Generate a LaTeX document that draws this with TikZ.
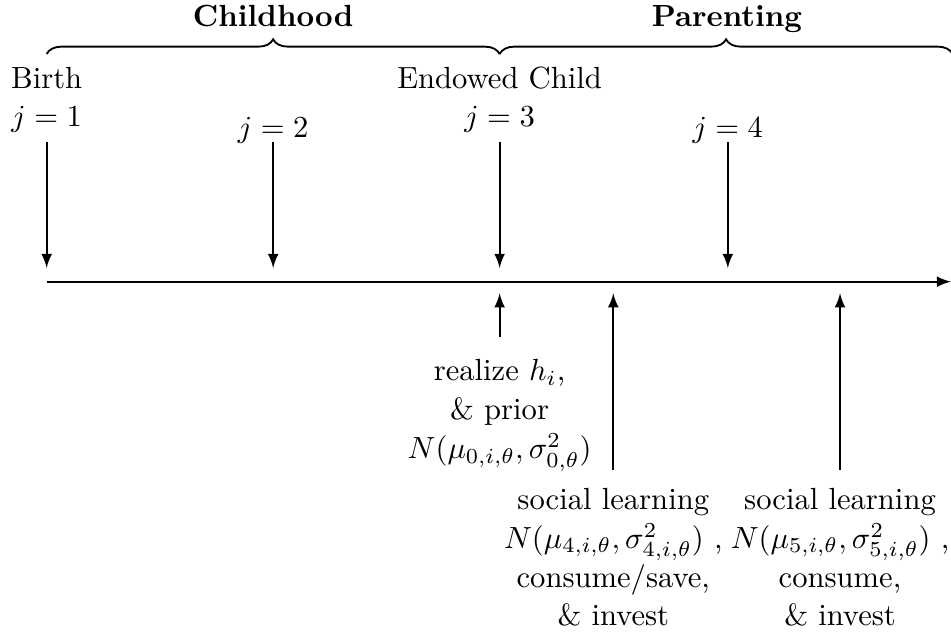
\documentclass[tikz,border=0pt]{standalone}
\usepackage{amsmath,amssymb}
\usepackage{tikz}
\usetikzlibrary{decorations.pathreplacing,arrows}

\tikzset{
  lbl/.style={inner sep=0pt,anchor=base},
  evt/.style={align=center,anchor=north,inner sep=0.5pt,outer sep=0pt,font=\fontsize{10pt}{12.7pt}\selectfont},
  brc/.style={decorate,decoration={brace,amplitude=4.8pt}},
}

\begin{document}
\begin{tikzpicture}[>=latex,semithick]
\useasboundingbox (-0.536,-4.022) rectangle (10.382,3.234);
\coordinate (start) at (0,0);
\coordinate (end) at (10.382,0);
\draw[->] (start) -- (end);
\coordinate (c0) at (0,2.614);
\coordinate (c1) at (5.2,2.614);
\coordinate (c2) at (10.4,2.614);
\draw[brc] (c0) -- (c1);
\draw[brc] (c1) -- (c2);
\node[lbl,font=\bfseries] (child) at (2.6,2.928) {Childhood};
\node[lbl,font=\bfseries] (parent) at (7.81,2.928) {Parenting};
\node[lbl] (birth) at (0,2.222) {Birth};
\node[lbl] (j1) at (0,1.776) {$j=1$};
\node[lbl] (j2) at (2.6,1.661) {$j=2$};
\node[lbl] (endow) at (5.2,2.222) {Endowed Child};
\node[lbl] (j3) at (5.2,1.776) {$j=3$};
\node[lbl] (j4) at (7.82,1.661) {$j=4$};
\coordinate (d1) at (0,1.604);
\coordinate (d2) at (2.6,1.604);
\coordinate (d3) at (5.2,1.604);
\coordinate (d4) at (7.82,1.604);
\coordinate (e1) at (0,0.157);
\coordinate (e2) at (2.6,0.157);
\coordinate (e3) at (5.2,0.157);
\coordinate (e4) at (7.82,0.157);
\draw[->] (d1) -- (e1);
\draw[->] (d2) -- (e2);
\draw[->] (d3) -- (e3);
\draw[->] (d4) -- (e4);
\node[evt] (realize) at (5.2,-0.878) {realize $h_i$,\\ \& prior\\ $N(\mu_{0,i,\theta},\sigma^2_{0,\theta})$};
\node[evt] (learn4) at (6.505,-2.352) {social learning\\ $N(\mu_{4,i,\theta},\sigma^2_{4,i,\theta})$ ,\\ consume/save,\\ \& invest};
\node[evt] (learn5) at (9.108,-2.352) {social learning\\ $N(\mu_{5,i,\theta},\sigma^2_{5,i,\theta})$ ,\\ consume,\\ \& invest};
\coordinate (s3) at (5.2,-0.638);
\coordinate (s4) at (6.505,-2.162);
\coordinate (s5) at (9.108,-2.162);
\coordinate (u3) at (5.2,-0.133);
\coordinate (u4) at (6.505,-0.133);
\coordinate (u5) at (9.108,-0.133);
\draw[->] (s3) -- (u3);
\draw[->] (s4) -- (u4);
\draw[->] (s5) -- (u5);
\end{tikzpicture}
\end{document}
